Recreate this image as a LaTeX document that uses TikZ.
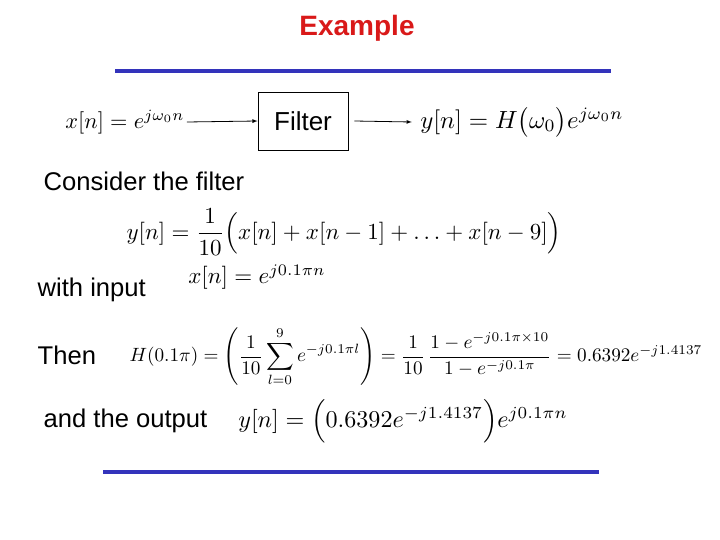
\documentclass[tikz,border=0pt]{standalone}
\usepackage{amsmath}
\usepackage{fontspec}
\setmainfont{Liberation Sans}
\begin{document}
\begin{tikzpicture}[x=1pt,y=-1pt,
  lbl/.style={anchor=west,font=\fontsize{16}{19}\selectfont,scale=1.6},
  eq/.style={inner sep=0pt,scale=2.3},
  bar/.style={draw={rgb,255:red,51;green,51;blue,187},line width=3.5pt},
  arr/.style={-latex,thick}]
\useasboundingbox (0,0) rectangle (720,540);
\node[scale=1.4] (title) at (357,28) {\fontsize{20}{24}\selectfont\bfseries\textcolor[rgb]{0.85,0.1,0.1}{Example}};
\coordinate (t1) at (115,71); \coordinate (t2) at (611,71);
\draw[bar] (t1) -- (t2);
\node[eq,scale=0.97] (xin) at (125,122) {$x[n]=e^{j\omega_0 n}$};
\node[draw,thick,minimum width=90pt,minimum height=58pt] (filt) at (303,121) {\fontsize{26}{30}\selectfont Filter};
\node[eq,scale=1.08] (yout) at (522,122) {$y[n]=H\bigl(\omega_0\bigr)e^{j\omega_0 n}$};
\draw[arr] (xin.east)+(2,0) coordinate (a0) (a0) -- (filt.west);
\draw[arr] (filt.east)+(6,0) coordinate (b0) (b0) -- ([xshift=-8pt]yout.west);
\node[lbl] (c1) at (38,181) {Consider the filter};
\node[eq] (e1) at (344,232) {$y[n]=\dfrac{1}{10}\Bigl(x[n]+x[n-1]+\ldots+x[n-9]\Bigr)$};
\node[lbl] (c2) at (32,290) {with input};
\node[eq] (e2) at (257,277) {$x[n]=e^{j0.1\pi n}$};
\node[lbl] (c3) at (32,355) {Then};
\node[eq,scale=0.835] (e3) at (416,357) {$H(0.1\pi)=\left(\dfrac{1}{10}\displaystyle\sum_{l=0}^{9}e^{-j0.1\pi l}\right)=\dfrac{1}{10}\,\dfrac{1-e^{-j0.1\pi\times10}}{1-e^{-j0.1\pi}}=0.6392e^{-j1.4137}$};
\node[lbl] (c4) at (38,421) {and the output};
\node[eq,scale=1.05] (e4) at (403,421) {$y[n]=\Bigl(0.6392e^{-j1.4137}\Bigr)e^{j0.1\pi n}$};
\coordinate (u1) at (103,472); \coordinate (u2) at (599,472);
\draw[bar] (u1) -- (u2);
\end{tikzpicture}
\end{document}
